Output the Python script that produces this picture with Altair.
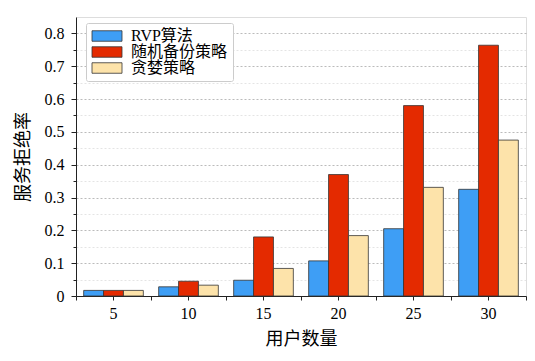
import altair as alt
import pandas as pd

users = [5, 10, 15, 20, 25, 30]
methods = ["RVP算法", "随机备份策略", "贪婪策略"]
rvp = [0.017, 0.028, 0.048, 0.107, 0.205, 0.325]
rand_backup = [0.017, 0.045, 0.180, 0.370, 0.580, 0.764]
greedy = [0.017, 0.033, 0.084, 0.184, 0.331, 0.475]
colors = ["#3E9EF5", "#E42A00", "#FDE3AA"]
major_y = [0, 0.1, 0.2, 0.3, 0.4, 0.5, 0.6, 0.7, 0.8]
minor_y = [0.05, 0.15, 0.25, 0.35, 0.45, 0.55, 0.65, 0.75]

rows = []
for m, vals in zip(methods, [rvp, rand_backup, greedy]):
    for u, v in zip(users, vals):
        rows.append({"users": u, "method": m, "rate": v})
df = pd.DataFrame(rows)

num_font = "Liberation Serif"
cjk_font = "Noto Sans CJK SC"

xscale = alt.Scale(paddingInner=0, paddingOuter=0)
yscale = alt.Scale(domain=[0, 0.85], nice=False)

bars = alt.Chart(df).mark_bar(stroke="#333", strokeWidth=0.8).encode(
    x=alt.X("users:O", scale=xscale, sort=users,
            axis=alt.Axis(title="用户数量", orient="bottom", labelAngle=0, tickSize=4,
                          tickColor="#222", domainColor="#222", labelFont=num_font,
                          labelFontSize=16, labelColor="#000", labelPadding=5,
                          titleFont=cjk_font, titleFontSize=18, titleFontWeight="normal",
                          titleColor="#000", titlePadding=9, grid=False)),
    xOffset=alt.XOffset("method:N", sort=methods,
                        scale=alt.Scale(paddingInner=0, paddingOuter=0.385)),
    y=alt.Y("rate:Q", scale=yscale,
            axis=alt.Axis(title="服务拒绝率", orient="left", values=major_y, format="~g",
                          tickSize=5, tickColor="#222", domainColor="#222",
                          labelFont=num_font, labelFontSize=16, labelColor="#000",
                          labelPadding=7, titleFont=cjk_font, titleFontSize=18,
                          titleFontWeight="normal", titleColor="#000", titlePadding=12,
                          grid=True, gridColor="#aaa", gridDash=[2, 2], gridWidth=0.8)),
    color=alt.Color("method:N", sort=methods,
                    scale=alt.Scale(domain=methods, range=colors),
                    legend=alt.Legend(title=None, orient="none", legendX=10, legendY=6,
                                      labelFont=num_font + ", " + cjk_font,
                                      labelFontSize=16, labelColor="#000",
                                      symbolType="M-2,-0.7H2V0.7H-2Z", symbolSize=225,
                                      symbolStrokeColor="#333", symbolStrokeWidth=0.8,
                                      symbolOpacity=1, symbolOffset=8, labelOffset=16,
                                      rowPadding=0, padding=5, fillColor="white",
                                      strokeColor="#ccc", cornerRadius=2)),
)

minor = alt.Chart(df).mark_bar(opacity=0).encode(
    x=alt.X("users:O", scale=xscale, sort=users,
            axis=alt.Axis(title=None, orient="bottom", labels=False, domain=False,
                          tickBand="extent", tickSize=4, tickColor="#222", grid=False)),
    y=alt.Y("rate:Q", scale=yscale,
            axis=alt.Axis(title=None, orient="left", values=minor_y, labels=False,
                          domain=False, tickSize=3, tickColor="#222", grid=True,
                          gridColor="#ddd", gridDash=[2, 2], gridWidth=0.8)),
)

chart = alt.layer(minor, bars).resolve_axis(x="independent", y="independent").properties(
    width=450, height=279,
    autosize=alt.AutoSizeParams(type="none"),
    padding={"left": 68, "top": 9, "right": 1, "bottom": 56},
).configure_view(stroke="#666", strokeWidth=1.2).configure(background="white")

chart.save("out.html", embed_options={"renderer": "svg", "actions": False})
